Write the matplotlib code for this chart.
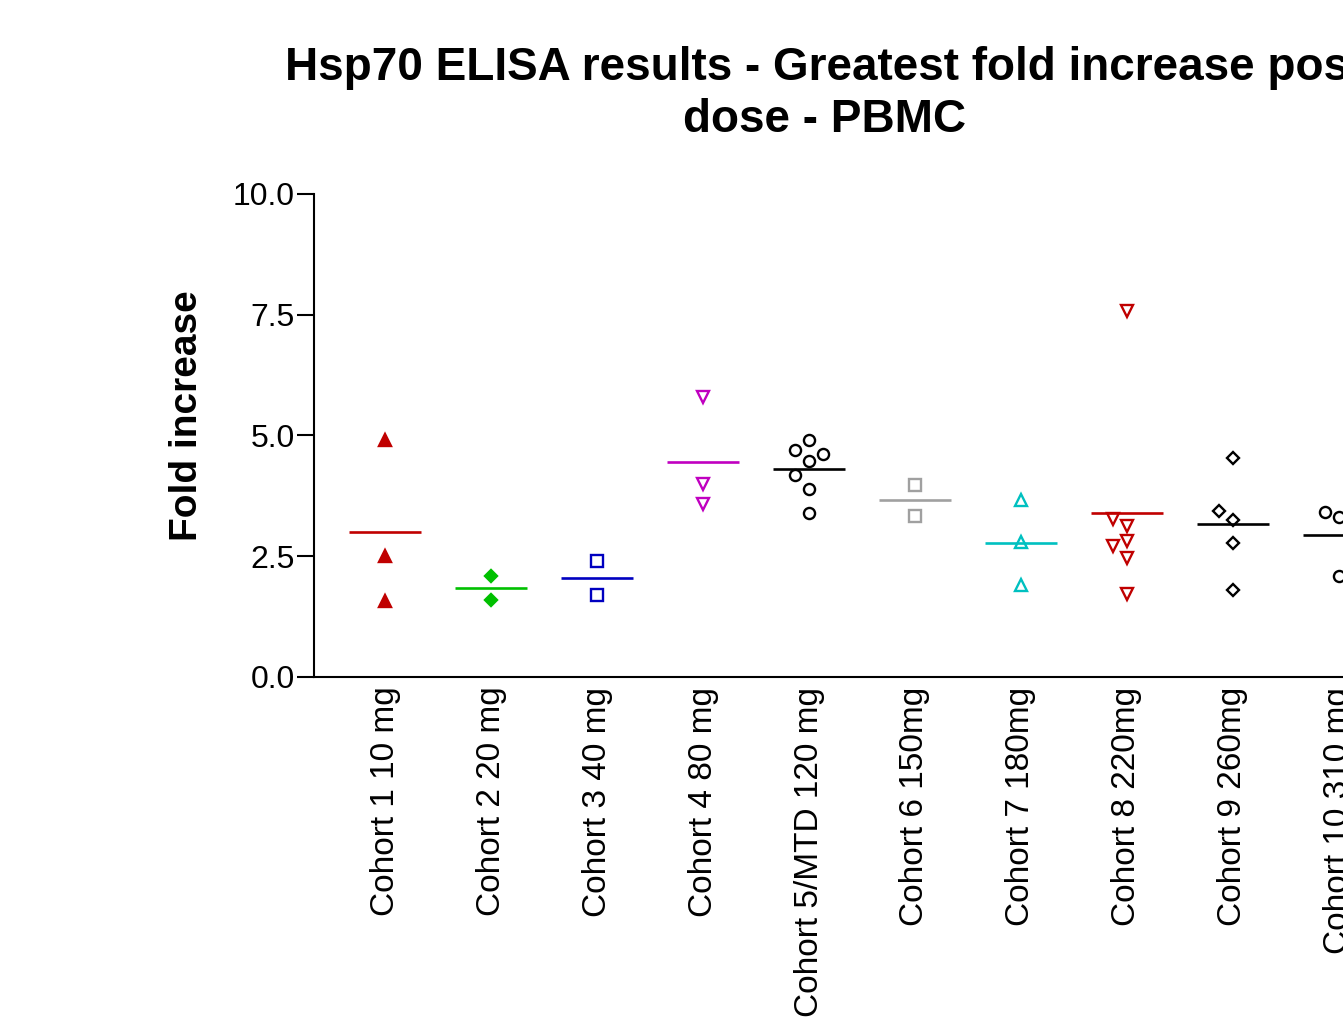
import matplotlib
matplotlib.use("Agg")
import matplotlib.pyplot as plt
import numpy as np

plt.rcParams['font.family'] = ['Liberation Sans', 'DejaVu Sans']

# values (fold increase per patient)
cohorts = ["Cohort 1 10 mg", "Cohort 2 20 mg", "Cohort 3 40 mg", "Cohort 4 80 mg",
           "Cohort 5/MTD 120 mg", "Cohort 6 150mg", "Cohort 7 180mg", "Cohort 8 220mg",
           "Cohort 9 260mg", "Cohort 10 310 mg"]
c1 = [4.91, 2.51, 1.57]
c2 = [2.09, 1.59]
c3 = [2.40, 1.70]
c4 = [5.80, 4.00, 3.58]
c5 = [4.90, 4.69, 4.61, 4.47, 4.19, 3.89, 3.40]
c6 = [3.97, 3.34]
c7 = [3.66, 2.79, 1.90]
c8 = [7.58, 3.13, 3.27, 2.82, 2.72, 2.47, 1.71]
c9 = [4.53, 3.26, 3.44, 2.77, 1.80]
c10 = [3.31, 3.42, 2.09]
groups = [c1, c2, c3, c4, c5, c6, c7, c8, c9, c10]

# marker, colour, filled
styles = [("^", "#C00000", True), ("D", "#00C000", True), ("s", "#0000C0", False),
          ("v", "#C000C0", False), ("o", "black", False), ("s", "#A0A0A0", False),
          ("^", "#00C0C0", False), ("v", "#C00000", False), ("D", "black", False),
          ("o", "black", False)]


def spread(vals, step=0.13, gap=0.3):
    # simple scatter layout: move a point sideways when it would overlap one already placed
    placed = []
    offs = []
    for v in vals:
        for o in (0, -step, step, -2 * step, 2 * step):
            if all(abs(v - pv) >= gap for pv, po in placed if po == o):
                break
        placed.append((v, o))
        offs.append(o)
    return np.array(offs)


fig = plt.figure(figsize=(13.43, 10.23), dpi=100)
ax = fig.add_axes([314 / 1343, 1 - 677 / 1023, (1410 - 314) / 1343, (677 - 194) / 1023])

for i, (vals, (m, col, filled)) in enumerate(zip(groups, styles)):
    x = i + spread(vals)
    ms = 6.5 if m == "D" else 8
    ax.plot(x, vals, linestyle="none", marker=m, markersize=ms,
            markerfacecolor=col if filled else "none", markeredgecolor=col,
            markeredgewidth=1.7, clip_on=False)
    ax.hlines(np.mean(vals), i - 0.34, i + 0.34, color=col, linewidth=1.9)

ax.set_xlim(-0.67, 9.67)
ax.set_ylim(0, 10)
ax.set_yticks([0, 2.5, 5.0, 7.5, 10.0])
ax.set_yticklabels(["0.0", "2.5", "5.0", "7.5", "10.0"], fontsize=23)
ax.set_xticks(range(len(cohorts)))
ax.set_xticklabels(cohorts, rotation=90, fontsize=24, va="top")
ax.tick_params(axis="x", length=0, pad=7)
ax.tick_params(axis="y", length=12, width=1.5, pad=2)
for s in ("top", "right"):
    ax.spines[s].set_visible(False)
for s in ("left", "bottom"):
    ax.spines[s].set_linewidth(1.5)

fig.text(187 / 1343, 1 - 416 / 1023, "Fold increase", rotation=90, fontsize=28,
         fontweight="bold", ha="center", va="center")
fig.text(825 / 1343, 1 - 94 / 1023,
         "Hsp70 ELISA results - Greatest fold increase post\ndose - PBMC",
         fontsize=33, fontweight="bold", ha="center", va="center", linespacing=1.25)

fig.savefig("out.png", dpi=100)
